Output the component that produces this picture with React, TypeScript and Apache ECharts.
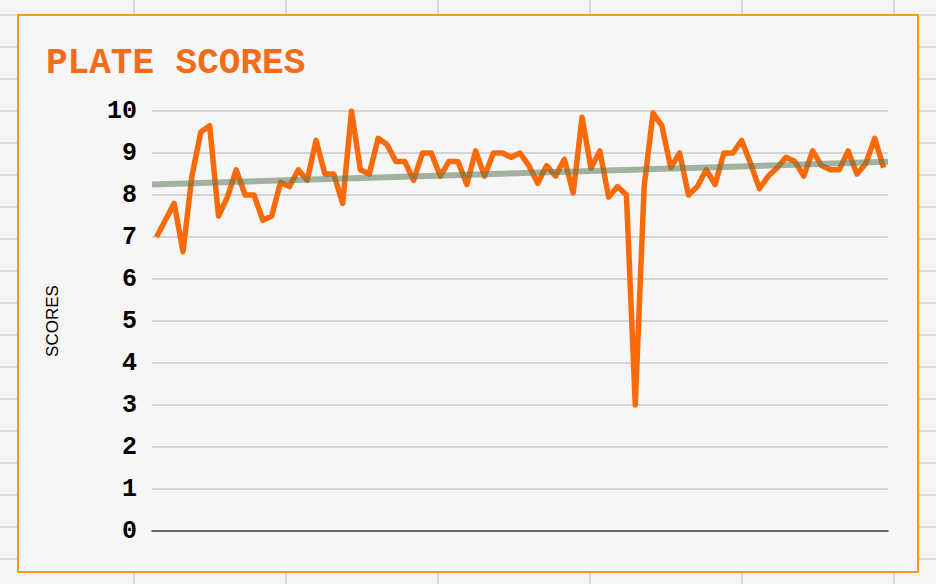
import React, { useEffect, useRef } from 'react';
import * as echarts from 'echarts';

const SCORES = [
  7.0, 7.4, 7.8, 6.65, 8.45, 9.5, 9.65, 7.5, 7.95, 8.6,
  8.0, 8.0, 7.4, 7.5, 8.3, 8.2, 8.6, 8.35, 9.3, 8.5,
  8.5, 7.8, 10.0, 8.6, 8.5, 9.35, 9.2, 8.8, 8.8, 8.35,
  9.0, 9.0, 8.45, 8.8, 8.8, 8.25, 9.05, 8.45, 9.0, 9.0,
  8.9, 9.0, 8.7, 8.28, 8.7, 8.45, 8.85, 8.05, 9.85, 8.64,
  9.05, 7.95, 8.2, 8.0, 3.0, 8.2, 9.95, 9.65, 8.65, 9.0,
  8.0, 8.2, 8.6, 8.25, 9.0, 9.0, 9.3, 8.75, 8.15, 8.45,
  8.65, 8.9, 8.8, 8.45, 9.05, 8.7, 8.6, 8.6, 9.05, 8.5,
  8.75, 9.35, 8.65,
];
const TREND = [8.25, 8.79];
const TITLE = 'PLATE SCORES';
const AXIS_NAME = 'SCORES';
const Y_MIN = 0;
const Y_MAX = 10;
const Y_STEP = 1;

export default function App() {
  const ref = useRef<HTMLDivElement>(null);
  useEffect(() => {
    const chart = echarts.init(ref.current!, null, { renderer: 'svg' });
    const cats = SCORES.map((_, i) => String(i + 1));
    chart.setOption({
      animation: false,
      backgroundColor: 'transparent',
      graphic: [
        {
          type: 'rect',
          z: -10,
          silent: true,
          shape: { x: 18, y: 15, width: 900, height: 557 },
          style: { fill: '#f6f6f6', stroke: '#f59a1b', lineWidth: 2 },
        },
        {
          type: 'text',
          x: 46,
          y: 63,
          style: {
            text: TITLE,
            font: 'bold 36px "Liberation Mono"',
            fill: '#f26c1a',
            verticalAlign: 'middle',
          },
        },
        {
          type: 'text',
          x: 52,
          y: 321,
          rotation: Math.PI / 2,
          style: {
            text: AXIS_NAME,
            font: '17px "Liberation Sans"',
            fill: '#000',
            align: 'center',
            verticalAlign: 'middle',
          },
        },
      ],
      grid: { left: 152, right: 48, top: 111, bottom: 53 },
      xAxis: [
        {
          type: 'category',
          data: cats,
          boundaryGap: true,
          axisLine: { lineStyle: { color: '#444', width: 1.5 } },
          axisTick: { show: false },
          axisLabel: { show: false },
          splitLine: { show: false },
        },
        {
          type: 'value',
          min: -0.5,
          max: SCORES.length - 0.5,
          show: false,
          splitLine: { show: false },
        },
      ],
      yAxis: {
        type: 'value',
        min: Y_MIN,
        max: Y_MAX,
        interval: Y_STEP,
        axisLine: { show: false },
        axisTick: { show: false },
        splitLine: { lineStyle: { color: '#c9c9c9', width: 1.5 } },
        axisLabel: {
          margin: 15,
          fontFamily: 'Liberation Mono',
          fontWeight: 'bold',
          fontSize: 25,
          color: '#000',
        },
      },
      series: [
        {
          type: 'line',
          data: SCORES,
          xAxisIndex: 0,
          symbol: 'none',
          lineStyle: { color: '#fb6a09', width: 5.5, join: 'round' },
          z: 2,
        },
        {
          type: 'line',
          data: [
            [-0.5, TREND[0]],
            [SCORES.length - 0.5, TREND[1]],
          ],
          xAxisIndex: 1,
          symbol: 'none',
          lineStyle: { color: 'rgba(95,122,85,0.55)', width: 6 },
          z: 3,
        },
      ],
    });
    return () => chart.dispose();
  }, []);
  return (
    <div
      ref={ref}
      style={{
        position: 'absolute',
        left: 0,
        top: 0,
        width: 936,
        height: 584,
        backgroundColor: '#f5f5f5',
        backgroundImage:
          'linear-gradient(to right, #d9d9d9 0px, #d9d9d9 2px, transparent 2px), linear-gradient(to bottom, #dcdcdc 0px, #dcdcdc 2px, transparent 2px)',
        backgroundSize: '152px 32px',
        backgroundPosition: '133px 14px',
      }}
    />
  );
}
